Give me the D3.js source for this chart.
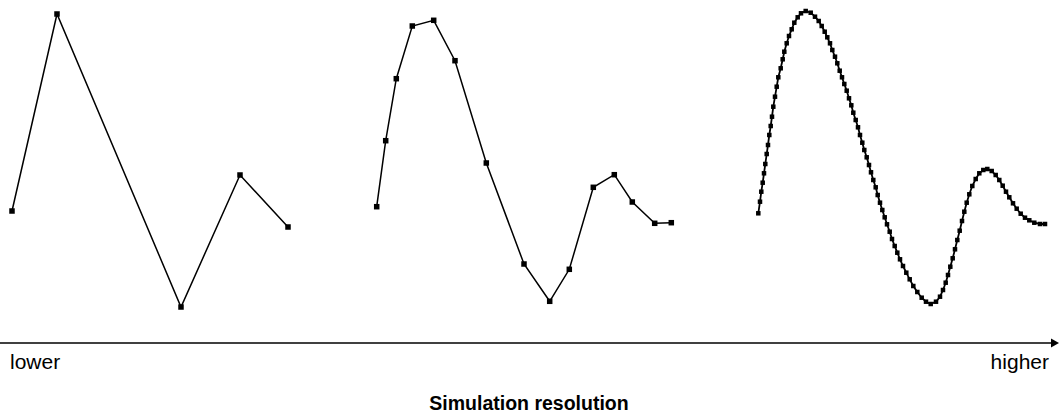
<!DOCTYPE html>
<html>
<head>
<meta charset="utf-8">
<script src="https://cdn.jsdelivr.net/npm/d3@7"></script>
<style>
  body { margin: 0; background: #fff; }
  text { font-family: "Liberation Sans", Arial, sans-serif; }
</style>
</head>
<body>
<svg id="canvas"></svg>
<script>
// panel titles / axis labels
let lowLabel = "lower";
let highLabel = "higher";
let axisTitle = "Simulation resolution";

// coarse sampling (time, amplitude)
let coarseT = [0, 45, 169, 228, 276];
let coarseV = [109, 306, 13, 145, 93];

// medium sampling
let mediumT = [0, 9, 19.6, 35.6, 57, 78.3, 109.6, 147.3, 173, 192.6, 216.6, 237.6, 255.6, 278, 294.6];
let mediumV = [113.3, 179.3, 241.3, 294, 299.7, 259.3, 157, 56, 18.7, 50.7, 132.7, 145.3, 118, 96.7, 97.3];

// fine sampling
let fineT = [0, 1.7, 3.0, 4.4, 5.7, 7.0, 8.4, 9.7, 11.0, 12.4, 13.7, 15.0, 16.7, 18.4, 20.0, 22.4, 24.4, 26.0, 28.4, 30.7,
  33.4, 36.0, 39.4, 42.7, 47.4, 52.4, 56.7, 60.4, 63.4, 66.4, 69.0, 71.7, 74.0, 76.7, 79.0, 81.4, 83.7, 86.0, 88.4, 90.7,
  93.0, 95.0, 97.4, 99.7, 101.7, 104.0, 106.0, 108.4, 110.7, 112.7, 115.0, 117.4, 119.4, 121.7, 124.0, 126.4, 128.7, 131.4, 133.7, 136.4,
  139.0, 141.7, 144.7, 148.0, 151.4, 155.0, 159.0, 163.4, 167.7, 172.4, 177.7, 181.7, 184.7, 187.4, 189.7, 192.0, 194.4, 196.7, 199.0, 201.4,
  203.7, 206.0, 208.4, 211.0, 214.0, 217.4, 221.0, 225.0, 229.0, 233.4, 237.4, 241.0, 244.4, 247.7, 251.0, 254.7, 258.4, 262.4, 266.7, 271.0,
  276.0, 281.7, 286.7];
let fineV = [106.7, 118.3, 128.3, 137.3, 146.7, 156, 166, 175, 185, 194, 203.3, 213.3, 223.3, 233.3, 242.7, 251.7, 260.7, 268.3, 276.7, 284,
  290.7, 297.3, 302.7, 306.7, 309, 307.3, 303.3, 299, 294, 288.3, 282.7, 276.7, 270, 263.3, 256.7, 249.3, 242.7, 236, 229.3, 221.7,
  214.7, 207.3, 200, 192.7, 185, 177.3, 170, 162.7, 155, 147.7, 140, 132.7, 125, 117.3, 110, 102.7, 95.7, 88.3, 81, 74,
  67.3, 60.7, 54, 47.3, 40.7, 34, 28, 22.3, 18.3, 16, 18.3, 23.3, 30, 37.3, 45, 53.3, 61.7, 70.7, 80, 89.3,
  99, 108.3, 117.3, 125.7, 134, 141, 146.7, 150, 151, 149, 145, 140, 134.3, 128.3, 122.7, 116.7, 111.3, 106.3, 102.3, 99.7,
  97.3, 96, 96];

let width = 1059;
let height = 414;

let canvas = d3.select("#canvas")
canvas.attr('width', width)
canvas.attr('height', height)

let yscale = d3.scaleLinear().domain([0, 320]).range([320, 0]);

let panels = [
  {t: coarseT, v: coarseV, start: 12, size: 5.5, stroke: 1.5},
  {t: mediumT, v: mediumV, start: 376.7, size: 5.5, stroke: 1.5},
  {t: fineT, v: fineV, start: 758.3, size: 4.5, stroke: 1.8}
];

function drawPanel(p) {
  let span = d3.max(p.t);
  let xscale = d3.scaleLinear().domain([0, span]).range([p.start, p.start + span]);
  let pts = p.t.map((t, i) => [t, p.v[i]]);
  let line = d3.line()
    .x(d => xscale(d[0]))
    .y(d => yscale(d[1]));
  let g = canvas.append('g');
  g.append('path')
    .datum(pts)
    .attr('d', line)
    .attr('fill', 'none')
    .attr('stroke', '#000')
    .attr('stroke-width', p.stroke);
  g.selectAll('rect')
    .data(pts)
    .enter()
    .append('rect')
    .attr('x', d => xscale(d[0]) - p.size / 2)
    .attr('y', d => yscale(d[1]) - p.size / 2)
    .attr('width', p.size)
    .attr('height', p.size)
    .attr('fill', '#000');
}
panels.forEach(drawPanel);

// resolution axis
let axisY = 343;
canvas.append('line')
  .attr('x1', 0).attr('x2', 1052)
  .attr('y1', axisY).attr('y2', axisY)
  .attr('stroke', '#000')
  .attr('stroke-width', 1.5);
canvas.append('path')
  .attr('d', 'M1051,' + (axisY - 4.5) + 'L1059,' + axisY + 'L1051,' + (axisY + 4.5) + 'Z')
  .attr('fill', '#000');

canvas.append('text')
  .attr('x', 10).attr('y', 369)
  .attr('font-size', 21)
  .text(lowLabel);
canvas.append('text')
  .attr('x', 1049).attr('y', 369)
  .attr('text-anchor', 'end')
  .attr('font-size', 21)
  .text(highLabel);
canvas.append('text')
  .attr('x', 529).attr('y', 410)
  .attr('text-anchor', 'middle')
  .attr('font-size', 19.5)
  .attr('font-weight', 'bold')
  .text(axisTitle);
</script>
</body>
</html>
